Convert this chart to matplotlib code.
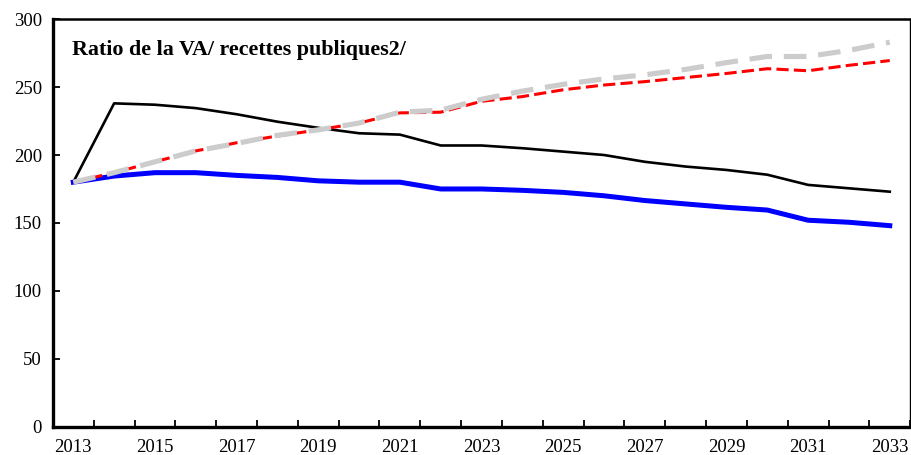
import matplotlib
matplotlib.use("Agg")
import matplotlib.pyplot as plt
import numpy as np

years = list(range(2013, 2034))
black = [180, 238, 237, 234.5, 230, 224.5, 220, 216, 215, 207, 207, 205, 202.5, 200, 195, 191.5, 189, 185.5, 178, 175.5, 173]
blue = [180, 184.5, 187, 187, 185, 183.5, 181, 180, 180, 175, 175, 174, 172.5, 170, 166.5, 164, 161.5, 159.5, 152, 150.5, 148]
red = [180, 187, 195, 203, 209, 214, 218.5, 223.5, 231, 231.5, 239.5, 243, 248, 251.5, 254, 257, 260, 263.5, 262, 266, 269.5]
grey = [180, 187, 195, 203, 208.5, 214.5, 218.5, 223.5, 231.5, 233, 241, 247, 252, 256, 259, 263, 268, 272.5, 272.5, 277, 283]

plt.rcParams['font.family'] = ['Liberation Serif', 'DejaVu Serif']

fig = plt.figure(figsize=(9.12, 4.55), dpi=100)
ax = fig.add_axes([0.058, 0.062, 0.94, 0.896])

x = np.arange(len(years))
ax.plot(x, black, color="black", lw=1.9, zorder=3)
ax.plot(x, blue, color="#0000ff", lw=3.6, zorder=3)
ax.plot(x, red, color="#ff0000", lw=2.2, dashes=(4, 1.7), zorder=4)
ax.plot(x, grey, color="#cccccc", lw=3.7, dashes=(4.4, 2.3), zorder=5)

ax.set_xlim(-0.5, len(years) - 0.5)
ax.set_ylim(0, 300)
ax.set_yticks(range(0, 301, 50))
ax.set_xticks(x[::2])
ax.set_xticklabels([str(y) for y in years[::2]])
ax.set_xticks(np.arange(-0.5, len(years)), minor=True)
ax.tick_params(axis="x", which="major", length=0, pad=9, labelsize=13.5)
ax.tick_params(axis="x", which="minor", direction="in", length=5, width=1.3)
ax.tick_params(axis="y", direction="in", length=5, width=1.3, pad=8, labelsize=13.5)

for s in ["left", "bottom"]:
    ax.spines[s].set_linewidth(2.4)
ax.spines["top"].set_linewidth(1.8)
ax.spines["right"].set_linewidth(1.0)

ax.text(0.022, 0.924, "Ratio de la VA/ recettes publiques2/", transform=ax.transAxes,
        fontsize=15.8, fontweight="bold", va="center", ha="left")

fig.savefig("out.png", dpi=100)
